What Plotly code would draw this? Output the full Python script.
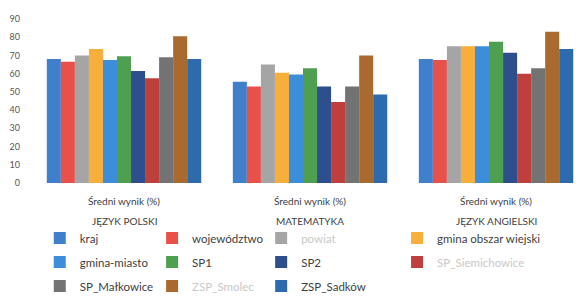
import plotly.graph_objects as go

subjects = ["JĘZYK POLSKI", "MATEMATYKA", "JĘZYK ANGIELSKI"]
tick_label = "Średni wynik (%)"

series_names = ["kraj", "województwo", "powiat", "gmina obszar wiejski",
                "gmina-miasto", "SP1", "SP2", "SP_Siemichowice",
                "SP_Małkowice", "ZSP_Smolec", "ZSP_Sadków"]

kraj = [68, 55.5, 68]
wojewodztwo = [66.5, 53, 67.5]
powiat = [70, 65, 75]
gmina_obszar = [73.5, 60.5, 75]
gmina_miasto = [67.5, 59.5, 75]
sp1 = [69.5, 63, 77.5]
sp2 = [61.5, 53, 71.5]
sp_siem = [57.5, 44.5, 60]
sp_malk = [69, 53, 63]
zsp_smolec = [80.5, 70, 83]
zsp_sadkow = [68, 48.5, 73.5]

values = [kraj, wojewodztwo, powiat, gmina_obszar, gmina_miasto, sp1, sp2,
          sp_siem, sp_malk, zsp_smolec, zsp_sadkow]

colors = ["#3F7FCC", "#E8504A", "#A5A5A5", "#F8AE3A", "#3C8EDB", "#4E9F50",
          "#2E4F8E", "#BE3F3C", "#737373", "#A86A2E", "#2E6AAE"]

faint = {"powiat", "SP_Siemichowice", "ZSP_Smolec"}
legend_of = ["legend", "legend2", "legend3", "legend4"]

fig = go.Figure()
for i, (name, vals, col) in enumerate(zip(series_names, values, colors)):
    label = f"<span style='color:#C8C8C8'>{name}</span>" if name in faint else name
    fig.add_trace(go.Bar(
        x=subjects, y=vals, name=label, marker_color=col,
        marker_line_width=0, legendgroup=f"g{i}",
        legend=legend_of[i % 4],
    ))

leg_x = [0.016, 0.221, 0.42, 0.668]
common = dict(orientation="v", y=-0.247, yanchor="top", xanchor="left",
              tracegroupgap=5, font=dict(size=11.5, color="#404040", family="Lato"),
              bgcolor="rgba(0,0,0,0)", itemwidth=30)

layout_legends = {}
for k, lx in zip(legend_of, leg_x):
    layout_legends[k] = dict(common, x=lx)

annotations = [dict(x=s, y=-0.182, xref="x", yref="paper", text=s,
                    showarrow=False, yanchor="top",
                    font=dict(size=10, color="#404040", family="Lato"))
               for s in subjects]

fig.update_layout(
    width=579, height=307,
    margin=dict(l=31, r=0, t=19, b=124, autoexpand=False),
    paper_bgcolor="white", plot_bgcolor="white",
    barmode="group", bargap=0.17, bargroupgap=0,
    font=dict(family="Lato", size=9, color="#404040"),
    xaxis=dict(range=[-0.5, 2.446], tickvals=subjects,
               ticktext=[tick_label] * len(subjects),
               showgrid=False, showline=False, zeroline=False,
               automargin=False, ticklabelstandoff=11,
               tickfont=dict(size=10, color="#404040")),
    yaxis=dict(range=[0, 90], dtick=10, showgrid=False, zeroline=False,
               showline=False, automargin=False, ticklabelstandoff=10,
               tickfont=dict(size=9, color="#555555")),
    annotations=annotations,
    **layout_legends,
)

fig.write_html("out.html", config={"displayModeBar": False},
               post_script="document.body.style.margin='0';")
